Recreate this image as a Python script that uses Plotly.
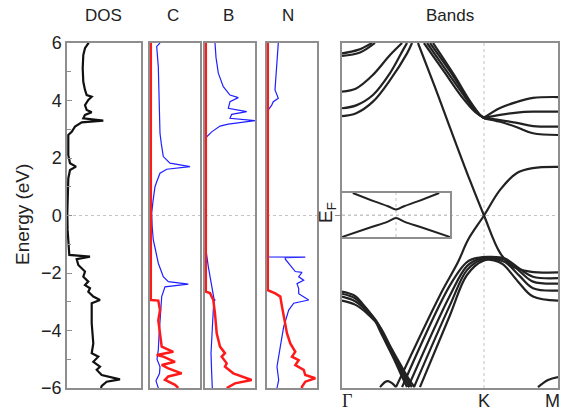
import plotly.graph_objects as go

W, H = 562, 414

# ---------------- total DOS ----------------
dos_E = [6.0, 5.99, 5.82, 5.58, 5.12, 4.65, 4.37, 4.19, 4.13, 4.02, 3.84, 3.67, 3.59, 3.50, 3.38, 3.30, 3.24,
         3.09, 2.91, 2.80, 2.10, 1.82, 1.70, 1.58, 1.29, 0.48, 0.08, -0.50, -0.97, -1.37, -1.43, -1.52, -1.72,
         -1.95, -2.13, -2.30, -2.42, -2.53, -2.65, -2.82, -2.94, -3.05, -3.75, -4.45, -4.79, -4.91, -5.09,
         -5.26, -5.37, -5.55, -5.70, -5.78, -5.93, -6.0]
dos_val = [2.13, 2.13, 1.80, 1.63, 1.57, 1.63, 1.80, 1.97, 2.47, 2.13, 1.80, 1.97, 2.47, 1.80, 1.63, 3.63, 1.47,
           0.80, 0.47, 0.13, 0.13, 0.30, 0.90, 0.30, 0.13, 0.05, 0.03, 0.06, 0.13, 0.23, 2.30, 0.97, 1.13,
           1.80, 1.63, 2.13, 1.80, 2.30, 2.13, 2.63, 3.30, 2.47, 2.47, 2.63, 2.47, 3.13, 2.63,
           3.30, 2.97, 3.47, 5.30, 3.97, 3.47, 3.40]

# ---------------- C PDOS ----------------
c_red_E = [6.0, -2.94, -2.96, -3.29, -3.64, -4.10, -4.56, -4.74, -4.85, -4.91, -5.09, -5.20, -5.32, -5.49,
           -5.60, -5.72, -5.89, -6.0]
c_red_val = [0.08, 0.08, 0.83, 1.0, 0.83, 1.0, 1.17, 2.33, 0.67, 1.33, 2.5, 1.17, 1.83, 3.17,
             1.83, 1.5, 2.5, 2.83]
c_blue_E = [6.0, 5.88, 5.18, 4.0, 3.3, 2.86, 2.5, 2.2, 2.05, 1.82, 1.70, 1.61, 1.47, 1.2, 1.0, 0.5, 0.08,
            -0.4, -0.85, -1.2, -1.66, -2.13, -2.30, -2.39, -2.48, -2.82, -3.52, -4.2, -4.68, -5.0, -5.26,
            -5.5, -5.75, -6.0]
c_blue_val = [1.0, 0.67, 0.83, 0.9, 0.95, 1.0, 1.13, 1.25, 1.33, 2.0, 4.0, 1.67, 1.0, 0.7, 0.5, 0.3, 0.17,
              0.22, 0.33, 0.55, 0.83, 1.33, 1.83, 3.83, 1.5, 1.17, 1.0, 0.9, 0.83, 0.7, 1.0,
              0.95, 0.6, 0.83]

# ---------------- B PDOS ----------------
b_red_E = [6.0, -2.65, -2.70, -2.94, -3.41, -4.10, -4.56, -4.79, -4.91, -5.14, -5.26, -5.49, -5.72, -5.84, -6.0]
b_red_val = [0.08, 0.08, 0.5, 0.83, 1.0, 1.17, 1.5, 2.0, 1.67, 2.17, 2.0, 2.83, 4.67, 3.0, 2.17]
b_blue_E = [6.0, 5.5, 4.95, 4.48, 4.19, 4.10, 3.96, 3.73, 3.61, 3.52, 3.38, 3.30, 3.18, 3.11, 2.91, 2.80, 2.74,
            2.6, -0.8, -1.2, -1.78, -2.48, -2.90, -2.94, -2.98, -3.29, -4.1, -4.8, -5.5, -6.0]
b_blue_val = [1.0, 1.1, 1.33, 1.83, 2.5, 3.33, 2.5, 2.33, 4.17, 2.67, 2.5, 5.0, 2.33, 1.5, 0.67, 0.33, 0.17,
              0.08, 0.08, 0.1, 0.33, 0.67, 0.9, 1.0, 0.9, 0.83, 0.67, 0.6, 0.67, 0.73]

# ---------------- N PDOS ----------------
n_red_E = [6.0, -2.6, -2.71, -2.82, -3.17, -3.52, -4.10, -4.45, -4.74, -4.91, -5.03, -5.20, -5.37, -5.55,
           -5.66, -5.78, -5.95, -6.0]
n_red_val = [0.08, 0.08, 0.83, 1.33, 1.5, 1.67, 2.0, 2.33, 2.83, 2.5, 3.17, 2.83, 3.67, 3.83,
             4.83, 3.83, 3.5, 3.5]
n_blue_E = [6.0, 5.18, 4.37, 4.08, 3.96, 3.84, 3.67, 3.5, -1.44, -1.45, -1.47, -1.52, -1.72, -1.95, -1.98,
            -2.13, -2.25, -2.37, -2.54, -2.72, -2.94, -3.05, -3.29, -3.87, -4.56, -5.26, -5.72, -6.0]
n_blue_val = [1.13, 0.97, 0.8, 1.13, 0.63, 0.47, 0.13, 0.08, 0.08, 3.83, 1.83, 1.83, 2.33, 2.83, 3.5,
              3.17, 3.67, 3.0, 3.17, 3.17, 4.17, 2.67, 2.17, 1.67, 1.33, 1.0, 1.17, 1.0]

# ---------------- band structure (k: Gamma=0, K=1, M=1.521) ----------------
k_ticks = [0, 1.0, 1.521]
k_labels = ["Γ", "K", "M"]

dirac1_k = [0.535, 0.648, 0.761, 0.901, 1.0, 1.113, 1.197, 1.324, 1.521]
dirac1_E = [6.0, 4.55, 3.05, 1.22, 0.0, -1.30, -1.76, -1.95, -1.98]
dirac2_k = [0.380, 0.690, 0.817, 0.887, 1.0, 1.113, 1.232, 1.345, 1.521]
dirac2_E = [-5.97, -2.77, -1.62, -0.85, 0.0, 0.89, 1.48, 1.65, 1.69]

val1_k = [0.423, 0.761, 0.880, 0.958, 1.042, 1.148, 1.25, 1.345, 1.521]
val1_E = [-5.97, -2.42, -1.62, -1.47, -1.44, -1.50, -1.85, -2.13, -2.18]
val2_k = [0.465, 0.761, 0.880, 0.972, 1.056, 1.162, 1.26, 1.345, 1.521]
val2_E = [-5.97, -2.77, -1.76, -1.50, -1.47, -1.56, -1.98, -2.30, -2.37]
val3_k = [0.507, 0.761, 0.880, 0.986, 1.07, 1.148, 1.25, 1.345, 1.521]
val3_E = [-5.97, -3.11, -1.90, -1.53, -1.51, -1.62, -2.10, -2.53, -2.61]
val4_k = [0.549, 0.761, 0.880, 1.0, 1.07, 1.134, 1.24, 1.345, 1.521]
val4_E = [-5.97, -3.46, -2.07, -1.56, -1.56, -1.70, -2.30, -2.82, -2.96]

down1_k = [0, 0.092, 0.15, 0.218, 0.289, 0.359, 0.408, 0.458]
down1_E = [-2.65, -2.80, -3.10, -3.53, -4.23, -4.92, -5.45, -5.97]
down2_k = [0, 0.092, 0.16, 0.235, 0.306, 0.376, 0.425, 0.475]
down2_E = [-2.72, -2.88, -3.20, -3.62, -4.30, -5.00, -5.50, -5.97]
down3_k = [0, 0.092, 0.17, 0.252, 0.323, 0.393, 0.442, 0.492]
down3_E = [-2.82, -2.98, -3.30, -3.75, -4.42, -5.08, -5.55, -5.97]
down4_k = [0, 0.092, 0.18, 0.27, 0.34, 0.41, 0.46, 0.51]
down4_E = [-2.96, -3.10, -3.42, -3.90, -4.55, -5.17, -5.60, -5.97]

cap_k = [0.268, 0.303, 0.324, 0.352, 0.380]
cap_E = [-5.97, -5.79, -5.76, -5.83, -5.97]
mband_k = [1.380, 1.451, 1.521]
mband_E = [-5.97, -5.72, -5.62]

cond_left_k = [[0.577, 0.725, 0.845, 0.937, 1.0],
               [0.599, 0.746, 0.866, 0.951, 1.0],
               [0.620, 0.768, 0.887, 0.965, 1.0],
               [0.641, 0.789, 0.901, 0.972, 1.0]]
cond_left_E = [[6.0, 4.96, 4.12, 3.60, 3.40],
               [6.0, 4.96, 4.12, 3.57, 3.39],
               [6.0, 4.96, 4.05, 3.53, 3.39],
               [6.0, 4.89, 3.98, 3.50, 3.38]]
cond_right_k = [1.0, 1.113, 1.232, 1.345, 1.521]
cond_right_E = [[3.40, 3.74, 3.95, 4.09, 4.12],
                [3.39, 3.50, 3.58, 3.61, 3.61],
                [3.39, 3.32, 3.22, 3.11, 3.09],
                [3.38, 3.26, 3.07, 2.86, 2.80]]

gam_k = [[0, 0.1, 0.218, 0.338, 0.430, 0.458],
         [0, 0.1, 0.218, 0.338, 0.458, 0.493],
         [0, 0.1, 0.218, 0.338, 0.423],
         [0, 0.113, 0.211],
         [0, 0.127, 0.232]]
gam_E = [[3.73, 3.83, 4.19, 4.95, 5.76, 6.0],
         [3.46, 3.56, 3.96, 4.71, 5.64, 6.0],
         [4.31, 4.42, 4.89, 5.58, 6.0],
         [5.64, 5.76, 6.0],
         [5.55, 5.67, 6.0]]

# ---------------- inset (zoom on gapped Dirac point) ----------------
inset_up_k = [-0.80, -0.40, -0.15, 0.0, 0.15, 0.40, 0.80]
inset_up_E = [1.0, 0.62, 0.40, 0.25, 0.40, 0.62, 1.0]
inset_lo_k = [-1.0, -0.48, -0.15, 0.0, 0.15, 0.48, 1.0]
inset_lo_E = [-1.0, -0.57, -0.30, -0.14, -0.30, -0.57, -1.0]

# =================================================================
RED = "#ff1a1a"
BLUE = "#1f1fff"
BAND = "#222222"
AX = "#8e8e8e"
DOT = "#c4c4c4"
FONT = "Liberation Sans"
TXT = "#222222"

fig = go.Figure()

def add(x, y, ax, color, width, shape="linear"):
    fig.add_trace(go.Scatter(x=x, y=y, mode="lines", xaxis="x" + ax, yaxis="y" + ax,
                             line=dict(color=color, width=width, shape=shape),
                             hoverinfo="skip", showlegend=False))

add(dos_val, dos_E, "", "#111111", 2.2)
add(c_blue_val, c_blue_E, "2", BLUE, 1.2)
add(c_red_val, c_red_E, "2", RED, 2.5)
add(b_blue_val, b_blue_E, "3", BLUE, 1.2)
add(b_red_val, b_red_E, "3", RED, 2.5)
add(n_blue_val, n_blue_E, "4", BLUE, 1.2)
add(n_red_val, n_red_E, "4", RED, 2.5)

bands = [(dirac1_k, dirac1_E), (dirac2_k, dirac2_E),
         (val1_k, val1_E), (val2_k, val2_E), (val3_k, val3_E), (val4_k, val4_E),
         (down1_k, down1_E), (down2_k, down2_E), (down3_k, down3_E), (down4_k, down4_E),
         (cap_k, cap_E), (mband_k, mband_E)]
for i in range(4):
    bands.append((cond_left_k[i], cond_left_E[i]))
    bands.append((cond_right_k, cond_right_E[i]))
for i in range(len(gam_k)):
    bands.append((gam_k[i], gam_E[i]))
for kk, ee in bands:
    add(kk, ee, "5", BAND, 2.2, "spline")

add(inset_up_k, inset_up_E, "6", BAND, 2.0, "spline")
add(inset_lo_k, inset_lo_E, "6", BAND, 2.0, "spline")

# ---------------- layout ----------------
def px_x(a, b):
    return [a / W, b / W]

ydom = [1 - 388 / H, 1 - 43 / H]
base = dict(showline=True, mirror=True, linecolor=AX, linewidth=1.5, showgrid=False,
            zeroline=False, ticks="", showticklabels=False, fixedrange=True, automargin=False)

layout = dict(width=W, height=H, autosize=False, margin=dict(l=0, r=0, t=0, b=0, pad=0, autoexpand=False),
              paper_bgcolor="white", plot_bgcolor="rgba(0,0,0,0)",
              font=dict(family=FONT, color=TXT, size=17), showlegend=False)

doms = {"": (67, 141, [0, 7.4]), "2": (150, 200, [0, 5.0]), "3": (205, 255, [0, 5.0]),
        "4": (267, 317, [0, 5.0]), "5": (342, 558, [0, 1.521])}
for ax, (a, b, rng) in doms.items():
    layout["xaxis" + ax] = dict(base, domain=px_x(a, b), range=rng, anchor="y" + ax)
    layout["yaxis" + ax] = dict(base, domain=ydom, range=[-6, 6], anchor="x" + ax)

layout["yaxis"].update(showticklabels=True, ticks="inside", ticklen=5, tickwidth=1.2,
                       tickcolor=AX, tickvals=[-6, -4, -2, 0, 2, 4, 6],
                       tickfont=dict(size=18, family=FONT, color=TXT),
                       minor=dict(ticks="inside", ticklen=4, tickwidth=1.2, tickcolor=AX,
                                  tickvals=[-5, -3, -1, 1, 3, 5]))
layout["yaxis5"].update(ticks="outside", ticklen=5, tickwidth=1.2, tickcolor=AX, tickvals=[0])

layout["xaxis6"] = dict(base, domain=px_x(342, 450), range=[-1, 1], anchor="y6")
layout["yaxis6"] = dict(base, domain=[1 - 237 / H, 1 - 193 / H], range=[-1, 1], anchor="x6")

shapes = []
for ax in ["", "2", "3", "4", "5"]:
    shapes.append(dict(type="line", xref="x" + ax + " domain", yref="y" + ax, x0=0, x1=1, y0=0, y1=0,
                       line=dict(color=DOT, width=1, dash="dot"), layer="below"))
shapes.append(dict(type="line", xref="x5", yref="y5 domain", x0=k_ticks[1], x1=k_ticks[1], y0=0, y1=1,
                   line=dict(color=DOT, width=1, dash="dot"), layer="below"))
shapes.append(dict(type="line", xref="x6 domain", yref="y6", x0=0, x1=1, y0=0, y1=0,
                   line=dict(color=DOT, width=1, dash="dot"), layer="below"))
shapes.append(dict(type="line", xref="x6", yref="y6 domain", x0=0, x1=0, y0=0, y1=1,
                   line=dict(color=DOT, width=1, dash="dot"), layer="below"))
layout["shapes"] = shapes

ty = 1 - 15 / H
ann = []
for txt, cx in [("DOS", 104), ("C", 173), ("B", 228), ("N", 288), ("Bands", 450)]:
    ann.append(dict(text=txt, x=cx / W, y=ty, xref="paper", yref="paper", showarrow=False,
                    xanchor="center", yanchor="middle", font=dict(size=17, family=FONT)))
# k-point labels on the band axis
for kv, lab, xa, fam in [(k_ticks[0], k_labels[0], "left", "Liberation Serif"),
                         (k_ticks[1], k_labels[1], "center", FONT),
                         (k_ticks[2], k_labels[2], "right", FONT)]:
    ann.append(dict(text=lab, x=kv, y=0, xref="x5", yref="paper", showarrow=False,
                    xanchor=xa, yanchor="middle", xshift=(-2 if xa == "left" else (4 if xa == "right" else 0)),
                    font=dict(size=18, family=fam, color=TXT), yshift=-(401 - 388) + 388 - 388))
ann.append(dict(text="Energy (eV)", x=22 / W, y=1 - 215 / H, xref="paper", yref="paper",
                showarrow=False, textangle=-90, xanchor="center", yanchor="middle",
                font=dict(size=19, family=FONT)))
ann.append(dict(text="E<sub>F</sub>", x=327 / W, y=1 - 213 / H, xref="paper", yref="paper",
                showarrow=False, textangle=-90, xanchor="center", yanchor="middle",
                font=dict(size=19, family=FONT)))
layout["annotations"] = ann

fig.update_layout(**layout)
# put k labels at the bottom line (paper y of 401 px)
for a in fig.layout.annotations:
    if a.xref == "x5":
        a.y = 1 - 401 / H
        a.yshift = 0
fig.write_html("out.html")
